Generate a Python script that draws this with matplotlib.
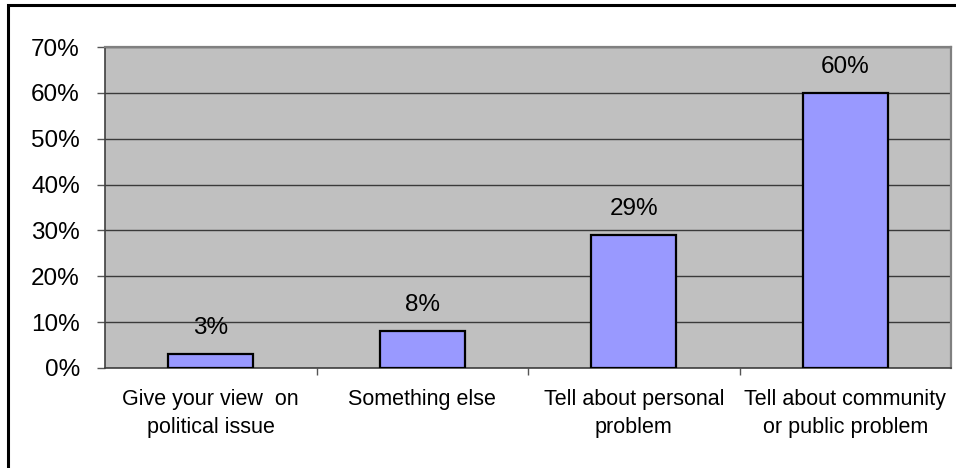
import matplotlib
matplotlib.use("Agg")
import matplotlib.pyplot as plt
from matplotlib.patches import Rectangle
from matplotlib.ticker import FixedLocator, FuncFormatter

plt.rcParams["font.family"] = ["Liberation Sans", "DejaVu Sans"]

categories = ["Give your view  on\npolitical issue", "Something else",
              "Tell about personal\nproblem", "Tell about community\nor public problem"]
shares = [3, 8, 29, 60]
yticks = [0, 10, 20, 30, 40, 50, 60, 70]

W, H = 956, 468
fig = plt.figure(figsize=(W / 100, H / 100), dpi=100)
fig.patch.set_facecolor("white")

# outer chart border (only left and top edges fall inside the image)
fig.add_artist(Rectangle((8 / W, -0.1), 1.1, (H - 5) / H + 0.1, transform=fig.transFigure,
                         fill=False, edgecolor="black", linewidth=2.2))

ax = fig.add_axes([105 / W, (H - 368) / H, (951 - 105) / W, (368 - 47) / H])
ax.set_facecolor("#C0C0C0")

x = range(len(categories))
bars = ax.bar(x, shares, width=0.4, color="#9999FF", edgecolor="black", linewidth=1.6, zorder=3)
for xi, v in zip(x, shares):
    ax.annotate(f"{v}%", (xi, v), xytext=(0, 11), textcoords="offset points",
                ha="center", va="bottom", fontsize=17.5)

ax.set_xlim(-0.5, len(categories) - 0.5)
ax.set_ylim(0, 70)
ax.yaxis.set_major_locator(FixedLocator(yticks))
ax.yaxis.set_major_formatter(FuncFormatter(lambda v, _: f"{v:.0f}%"))
ax.grid(axis="y", color="#3a3a3a", linewidth=1.0, zorder=1)
ax.set_axisbelow(True)

ax.set_xticks(list(x))
ax.set_xticklabels(categories, fontsize=15.5, linespacing=1.45)
ax.tick_params(axis="x", length=0, pad=15)
ax.set_xticks([i + 0.5 for i in range(len(categories) - 1)], minor=True)
ax.tick_params(axis="x", which="minor", length=5, width=1, color="#555555", direction="out")
ax.tick_params(axis="y", length=6, width=1, color="#555555", pad=12, labelsize=17.5)

for side in ["left", "bottom"]:
    ax.spines[side].set_color("#404040")
    ax.spines[side].set_linewidth(1.2)
for side in ["right", "top"]:
    ax.spines[side].set_color("#808080")
    ax.spines[side].set_linewidth(1.6)

fig.savefig("out.png", dpi=100)
